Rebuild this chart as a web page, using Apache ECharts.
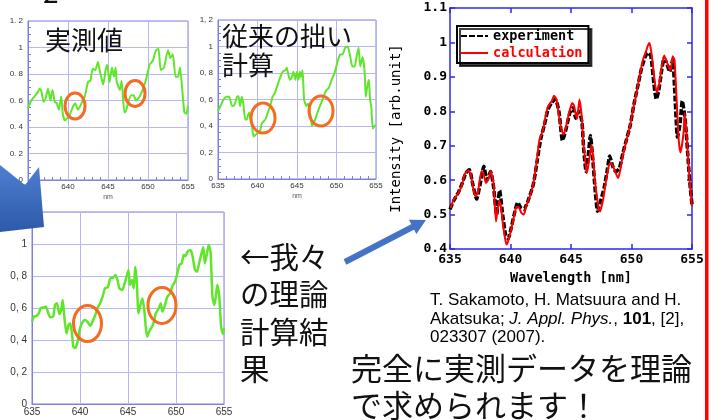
<!DOCTYPE html>
<html><head><meta charset="utf-8">
<script src="https://cdn.jsdelivr.net/npm/echarts@6/dist/echarts.min.js"></script>
<style>html,body{margin:0;padding:0;background:#fff}#c{width:714px;height:420px}</style>
</head><body><div id="c"></div><script>
// Spectra: [wavelength nm, normalized intensity]
const measured = [[635.0,0.54],[635.4,0.60],[635.8,0.63],[636.25,0.665],[636.45,0.69],[636.65,0.675],[636.95,0.59],[637.2,0.615],[637.5,0.69],[637.8,0.60],[638.05,0.68],[638.35,0.59],[638.6,0.58],[638.85,0.53],[639.15,0.63],[639.35,0.50],[639.6,0.45],[639.8,0.46],[640.2,0.49],[640.6,0.55],[640.9,0.58],[641.25,0.53],[641.7,0.58],[642.1,0.63],[642.5,0.74],[642.8,0.75],[643.1,0.84],[643.4,0.83],[643.75,0.89],[643.95,0.83],[644.15,0.78],[644.4,0.72],[644.7,0.83],[644.9,0.87],[645.2,0.74],[645.5,0.85],[645.75,0.78],[645.95,0.85],[646.1,0.74],[646.5,0.68],[646.7,0.75],[647.05,0.51],[647.25,0.52],[647.5,0.58],[647.9,0.64],[648.2,0.64],[648.5,0.60],[648.95,0.63],[649.4,0.69],[649.8,0.77],[650.2,0.87],[650.6,0.90],[651.0,0.98],[651.3,0.99],[651.6,0.83],[652.0,0.85],[652.5,0.98],[652.8,0.92],[653.1,0.95],[653.45,0.78],[653.75,0.78],[654.0,0.85],[654.3,0.67],[654.55,0.51],[654.8,0.50],[655.0,0.56]];

const oldCalc = [[635.0,0.51],[635.3,0.55],[635.7,0.60],[636.1,0.62],[636.4,0.62],[636.8,0.55],[637.1,0.56],[637.4,0.62],[637.6,0.625],[637.8,0.55],[638.0,0.62],[638.2,0.57],[638.45,0.45],[638.65,0.45],[638.8,0.485],[638.95,0.50],[639.1,0.45],[639.3,0.40],[639.5,0.32],[639.7,0.33],[640.05,0.35],[640.35,0.37],[640.55,0.42],[641.0,0.45],[641.3,0.50],[641.6,0.55],[641.9,0.62],[642.2,0.65],[642.6,0.72],[642.9,0.77],[643.2,0.81],[643.5,0.82],[643.7,0.84],[643.9,0.79],[644.1,0.75],[644.35,0.77],[644.55,0.81],[644.8,0.75],[645.0,0.81],[645.2,0.75],[645.35,0.81],[645.5,0.77],[645.7,0.82],[645.9,0.60],[646.2,0.55],[646.4,0.57],[646.7,0.485],[646.9,0.40],[647.1,0.42],[647.3,0.45],[647.7,0.52],[648.05,0.57],[648.35,0.62],[648.7,0.67],[649.0,0.685],[649.4,0.75],[649.8,0.81],[650.2,0.90],[650.45,0.94],[650.75,0.94],[651.1,0.99],[651.4,1.0],[651.75,0.92],[652.0,0.85],[652.3,0.85],[652.5,0.91],[652.8,0.99],[653.0,0.85],[653.3,0.92],[653.55,0.82],[653.7,0.62],[653.9,0.70],[654.1,0.75],[654.25,0.60],[654.4,0.55],[654.6,0.38],[654.9,0.41]];

const ourCalc = [[635.0,0.515],[635.2,0.546],[635.45,0.55],[635.7,0.567],[635.9,0.598],[636.2,0.604],[636.45,0.608],[636.7,0.567],[636.9,0.542],[637.2,0.546],[637.4,0.619],[637.6,0.629],[637.85,0.5625],[638.05,0.59],[638.2,0.65],[638.4,0.525],[638.6,0.44],[638.8,0.494],[638.99,0.504],[639.2,0.42],[639.3,0.358],[639.5,0.35],[639.75,0.39],[639.95,0.4625],[640.2,0.504],[640.5,0.525],[640.75,0.515],[641.07,0.4875],[641.3,0.515],[641.6,0.556],[641.8,0.598],[642.1,0.629],[642.4,0.68],[642.6,0.723],[642.9,0.73],[643.15,0.785],[643.45,0.79],[643.7,0.806],[643.9,0.775],[644.1,0.723],[644.4,0.7125],[644.6,0.744],[644.8,0.785],[645.05,0.8375],[645.2,0.744],[645.4,0.775],[645.6,0.723],[645.75,0.858],[645.9,0.775],[646.1,0.567],[646.3,0.619],[646.5,0.66],[646.7,0.5875],[646.85,0.483],[647.0,0.42],[647.2,0.452],[647.5,0.483],[647.7,0.515],[647.9,0.567],[648.2,0.598],[648.4,0.629],[648.6,0.577],[648.85,0.619],[649.1,0.671],[649.4,0.692],[649.6,0.733],[649.9,0.765],[650.1,0.806],[650.35,0.869],[650.6,0.879],[650.8,0.931],[651.0,0.925],[651.2,0.952],[651.5,0.9625],[651.7,0.931],[651.98,0.8375],[652.2,0.827],[652.4,0.879],[652.7,0.952],[652.85,0.979],[653.0,0.879],[653.2,0.931],[653.4,0.994],[653.6,0.95],[653.8,0.671],[654.0,0.619],[654.15,0.671],[654.3,0.744],[654.5,0.681],[654.7,0.483],[654.9,0.4375],[655.0,0.473]];

const experiment = [[635.0,0.515],[635.3,0.54],[635.7,0.565],[636.0,0.59],[636.3,0.62],[636.6,0.63],[636.9,0.585],[637.2,0.545],[637.5,0.59],[637.8,0.64],[638.05,0.6],[638.35,0.625],[638.6,0.58],[638.85,0.5],[639.1,0.57],[639.35,0.5],[639.6,0.44],[639.8,0.43],[640.05,0.46],[640.3,0.5],[640.6,0.535],[640.85,0.52],[641.1,0.515],[641.5,0.545],[641.9,0.59],[642.2,0.655],[642.5,0.72],[642.8,0.76],[643.1,0.805],[643.4,0.825],[643.7,0.835],[644.0,0.8],[644.3,0.715],[644.6,0.75],[644.9,0.795],[645.15,0.81],[645.4,0.78],[645.65,0.8],[645.9,0.77],[646.05,0.69],[646.25,0.625],[646.45,0.68],[646.6,0.73],[646.8,0.66],[647.0,0.57],[647.2,0.51],[647.45,0.54],[647.75,0.58],[648.0,0.63],[648.2,0.67],[648.45,0.64],[648.7,0.625],[649.0,0.635],[649.3,0.68],[649.6,0.72],[649.9,0.76],[650.2,0.82],[650.5,0.87],[650.8,0.92],[651.1,0.955],[651.35,0.97],[651.6,0.96],[651.85,0.88],[652.05,0.835],[652.25,0.86],[652.5,0.92],[652.7,0.955],[652.95,0.935],[653.15,0.915],[653.4,0.95],[653.6,0.84],[653.8,0.725],[654.0,0.76],[654.2,0.83],[654.45,0.77],[654.7,0.65],[654.85,0.58],[655.0,0.53]];

const calculation = [[635.05,0.519],[635.3,0.543],[635.7,0.563],[636.0,0.587],[636.2,0.616],[636.5,0.628],[636.7,0.62],[636.9,0.58],[637.1,0.553],[637.3,0.563],[637.6,0.626],[637.75,0.622],[637.97,0.592],[638.2,0.606],[638.35,0.626],[638.6,0.592],[638.8,0.48],[638.92,0.51],[639.07,0.54],[639.22,0.52],[639.4,0.466],[639.6,0.422],[639.7,0.413],[639.95,0.442],[640.2,0.48],[640.35,0.505],[640.5,0.522],[640.7,0.52],[640.9,0.505],[641.1,0.5],[641.3,0.525],[641.6,0.553],[641.9,0.592],[642.15,0.65],[642.4,0.718],[642.7,0.747],[642.9,0.785],[643.1,0.814],[643.4,0.829],[643.6,0.845],[643.8,0.834],[644.0,0.79],[644.2,0.747],[644.4,0.733],[644.6,0.756],[644.9,0.804],[645.1,0.824],[645.25,0.816],[645.4,0.79],[645.5,0.778],[645.7,0.834],[645.9,0.78],[646.0,0.718],[646.2,0.65],[646.3,0.62],[646.55,0.67],[646.7,0.703],[646.82,0.67],[646.97,0.6],[647.1,0.563],[647.3,0.514],[647.4,0.509],[647.65,0.543],[647.9,0.6],[648.15,0.645],[648.3,0.65],[648.6,0.63],[648.75,0.616],[648.9,0.606],[649.1,0.635],[649.3,0.674],[649.6,0.718],[649.85,0.752],[650.1,0.8],[650.35,0.843],[650.7,0.906],[650.95,0.95],[651.2,0.974],[651.45,0.998],[651.55,0.99],[651.7,0.955],[651.9,0.892],[652.1,0.853],[652.3,0.882],[652.5,0.93],[652.7,0.962],[652.9,0.945],[653.2,0.92],[653.3,0.93],[653.4,0.96],[653.55,0.95],[653.7,0.853],[653.9,0.718],[654.05,0.68],[654.3,0.737],[654.4,0.795],[654.6,0.708],[654.8,0.6],[655.0,0.524]];

// Circled features [wavelength, intensity] in each small panel
const marksMeasured = [[640.88, 0.558], [648.38, 0.653]];
const marksOldCalc = [[640.7, 0.46], [648.04, 0.513]];
const marksOurCalc = [[640.78, 0.503], [648.54, 0.616]];

const GREEN = '#5fe62a';
const PANEL_AXIS = '#7f7fe0';
const PANEL_GRID = '#b6b6f2';
const ORANGE = '#f36c21';
const BLUE = '#4472c4';
const MONO = "'DejaVu Sans Mono', 'Liberation Mono', monospace";
const CJK = "'Noto Sans CJK JP', sans-serif";

function decimalLabel(sep) {
  return v => String(Math.round(v * 10) / 10).replace('.', sep);
}

function panelX(gridIndex, fontSize, withName, minor) {
  return {
    type: 'value', gridIndex, min: 635, max: 655, interval: 5,
    axisLine: { show: true, lineStyle: { color: PANEL_AXIS } },
    axisTick: { show: false, inside: true },
    minorTick: { show: minor, splitNumber: 5, length: 3, lineStyle: { color: PANEL_AXIS } },
    splitLine: { show: true, lineStyle: { color: PANEL_GRID } },
    axisLabel: { fontSize, color: '#333', margin: 3, fontFamily: 'Liberation Sans' },
    name: withName ? 'nm' : '', nameLocation: 'middle', nameGap: 14,
    nameTextStyle: { fontSize: 7, color: '#555' }
  };
}
function panelY(gridIndex, fontSize, sep, minor) {
  return {
    type: 'value', gridIndex, min: 0, max: 1.2, interval: 0.2,
    axisLine: { show: true, lineStyle: { color: PANEL_AXIS } },
    axisTick: { show: false, inside: true },
    minorTick: { show: minor, splitNumber: 4, length: 3, lineStyle: { color: PANEL_AXIS } },
    splitLine: { show: true, lineStyle: { color: PANEL_GRID } },
    axisLabel: { fontSize, color: '#333', margin: 5, fontFamily: 'Liberation Sans', formatter: decimalLabel(sep) }
  };
}

const RIGHT_AXIS = '#2a2aee';
const rightTick = { show: true, inside: true, length: 5, lineStyle: { color: RIGHT_AXIS, width: 1.5 } };

const chart = echarts.init(document.getElementById('c'), null, { renderer: 'canvas' });

chart.setOption({
  animation: false,
  backgroundColor: '#fff',
  grid: [
    { left: 28, top: 21, width: 160, height: 159, show: true, borderColor: PANEL_AXIS, borderWidth: 1 },
    { left: 218, top: 20, width: 158, height: 159, show: true, borderColor: PANEL_AXIS, borderWidth: 1 },
    { left: 32, top: 212, width: 192, height: 192, show: true, borderColor: PANEL_AXIS, borderWidth: 1 },
    { left: 450, top: 8, width: 242, height: 241 }
  ],
  xAxis: [
    panelX(0, 8, true, true),
    panelX(1, 8, true, true),
    panelX(2, 10, false, false),
    {
      type: 'value', gridIndex: 3, min: 635, max: 655, interval: 5, position: 'bottom',
      axisLine: { show: true, lineStyle: { color: RIGHT_AXIS, width: 1.5 } },
      axisTick: rightTick, splitLine: { show: false },
      axisLabel: { fontFamily: MONO, fontWeight: 'bold', fontSize: 13, color: '#000', margin: 4 },
      name: 'Wavelength [nm]', nameLocation: 'middle', nameGap: 22,
      nameTextStyle: { fontFamily: MONO, fontWeight: 'bold', fontSize: 13.5, color: '#000' }
    },
    {
      type: 'value', gridIndex: 3, min: 635, max: 655, interval: 5, position: 'top',
      axisLine: { show: true, lineStyle: { color: RIGHT_AXIS, width: 1.5 } },
      axisTick: rightTick, axisLabel: { show: false }, splitLine: { show: false }
    }
  ],
  yAxis: [
    panelY(0, 8, '. ', true),
    panelY(1, 8, ', ', true),
    panelY(2, 10, ', ', false),
    {
      type: 'value', gridIndex: 3, min: 0.4, max: 1.1, interval: 0.1, position: 'left',
      axisLine: { show: true, lineStyle: { color: RIGHT_AXIS, width: 1.5 } },
      axisTick: rightTick, splitLine: { show: false },
      axisLabel: { fontFamily: MONO, fontWeight: 'bold', fontSize: 13, color: '#000', margin: 3,
        formatter: v => String(Math.round(v * 10) / 10) },
      name: 'Intensity [arb.unit]', nameLocation: 'middle', nameGap: 47,
      nameTextStyle: { fontFamily: MONO, fontSize: 14, color: '#000' }
    },
    {
      type: 'value', gridIndex: 3, min: 0.4, max: 1.1, interval: 0.1, position: 'right',
      axisLine: { show: true, lineStyle: { color: RIGHT_AXIS, width: 1.5 } },
      axisTick: rightTick, axisLabel: { show: false }, splitLine: { show: false }
    }
  ],
  legend: {
    orient: 'vertical', left: 457, top: 26, itemWidth: 27, itemHeight: 12, itemGap: 3,
    padding: [3, 6, 3, 3], borderColor: '#000', borderWidth: 2, backgroundColor: '#fff',
    shadowColor: 'rgba(0,0,0,0.75)', shadowOffsetX: 3, shadowOffsetY: 3, shadowBlur: 0,
    itemStyle: { opacity: 0 },
    textStyle: { fontFamily: MONO, fontWeight: 'bold', fontSize: 13.5 },
    data: [
      { name: 'experiment', textStyle: { color: '#000' } },
      { name: 'calculation', textStyle: { color: '#ff0000' } }
    ]
  },
  series: [
    { type: 'line', name: 'measured', xAxisIndex: 0, yAxisIndex: 0, data: measured, symbol: 'none', smooth: 0.2,
      lineStyle: { color: GREEN, width: 2 } },
    { type: 'line', name: 'oldCalc', xAxisIndex: 1, yAxisIndex: 1, data: oldCalc, symbol: 'none', smooth: 0.2,
      lineStyle: { color: GREEN, width: 2 } },
    { type: 'line', name: 'ourCalc', xAxisIndex: 2, yAxisIndex: 2, data: ourCalc, symbol: 'none', smooth: 0.2,
      lineStyle: { color: GREEN, width: 2.5 } },
    { type: 'line', name: 'experiment', xAxisIndex: 3, yAxisIndex: 3, data: experiment, symbol: 'none', smooth: 0.2,
      itemStyle: { color: '#000' }, lineStyle: { color: '#000', width: 3.5, type: [6, 2] } },
    { type: 'line', name: 'calculation', xAxisIndex: 3, yAxisIndex: 3, data: calculation, symbol: 'none', smooth: 0.2,
      itemStyle: { color: '#ff0000' }, lineStyle: { color: '#ff0000', width: 2 } }
  ]
});

// Orange rings around features, placed through each panel's own axes
function rings(axisIndex, marks, rx, ry) {
  return marks.map(m => {
    const p = chart.convertToPixel({ xAxisIndex: axisIndex, yAxisIndex: axisIndex }, m);
    return { type: 'ellipse', z: 50, shape: { cx: p[0], cy: p[1], rx, ry },
      style: { fill: 'none', stroke: ORANGE, lineWidth: 3 } };
  });
}

const tip = [426, 220], tail = [345, 262];
const dx = tip[0] - tail[0], dy = tip[1] - tail[1], len = Math.hypot(dx, dy);
const ux = dx / len, uy = dy / len, head = 15, half = 8;
const bx = tip[0] - ux * head, by = tip[1] - uy * head;

chart.setOption({
  graphic: [
    ...rings(0, marksMeasured, 10, 13),
    ...rings(1, marksOldCalc, 12, 15),
    ...rings(2, marksOurCalc, 14, 18),
    { type: 'text', z: 60, left: 43, top: -22, style: { text: '2', font: `28px ${CJK}`, fill: '#111' } },
    { type: 'text', z: 60, left: 45, top: 27, style: { text: '実測値', font: `26px ${CJK}`, fill: '#111' } },
    { type: 'text', z: 60, left: 222, top: 22, style: { text: '従来の拙い\n計算', font: `26px ${CJK}`, lineHeight: 29, fill: '#111' } },
    { type: 'text', z: 60, left: 240, top: 238, style: { text: '←我々\nの理論\n計算結\n果', font: `29.5px ${CJK}`, lineHeight: 37.5, fill: '#111' } },
    { type: 'text', z: 60, left: 430, top: 292, style: {
      text: '{n|T. Sakamoto, H. Matsuura and H.}\n{n|Akatsuka; }{i|J. Appl. Phys.}{n|, }{b|101}{n|, [2],}\n{n|023307 (2007).}',
      rich: {
        n: { fontFamily: 'Liberation Sans', fontSize: 17, color: '#333', lineHeight: 18.5 },
        i: { fontFamily: 'Liberation Sans', fontSize: 17, fontStyle: 'italic', color: '#333', lineHeight: 18.5 },
        b: { fontFamily: 'Liberation Sans', fontSize: 17, fontWeight: 'bold', color: '#111', lineHeight: 18.5 }
      } } },
    { type: 'text', z: 60, left: 351, top: 350, style: { text: '完全に実測データを理論\nで求められます！', font: `31px ${CJK}`, lineHeight: 37, fill: '#111' } },
    // pointer from the caption to the spectrum panel
    { type: 'line', z: 70, shape: { x1: tail[0], y1: tail[1], x2: bx + ux * 2, y2: by + uy * 2 },
      style: { stroke: BLUE, lineWidth: 6 } },
    { type: 'polygon', z: 70, shape: { points: [tip, [bx - uy * half, by + ux * half], [bx + uy * half, by - ux * half]] },
      style: { fill: BLUE } },
    // block arrow fragment at the left edge
    { type: 'polygon', z: 80, shape: { points: [[0, 165], [25, 185], [39, 167], [44, 227], [0, 232]] },
      style: { fill: new echarts.graphic.LinearGradient(0, 0, 0, 1, [
        { offset: 0, color: '#4f7fd2' }, { offset: 1, color: '#2d59a9' }]) } },
    // red divider on the right
    { type: 'rect', z: 80, shape: { x: 705, y: 0, width: 3.5, height: 420 }, style: { fill: '#ff0000' } }
  ]
});
</script></body></html>
